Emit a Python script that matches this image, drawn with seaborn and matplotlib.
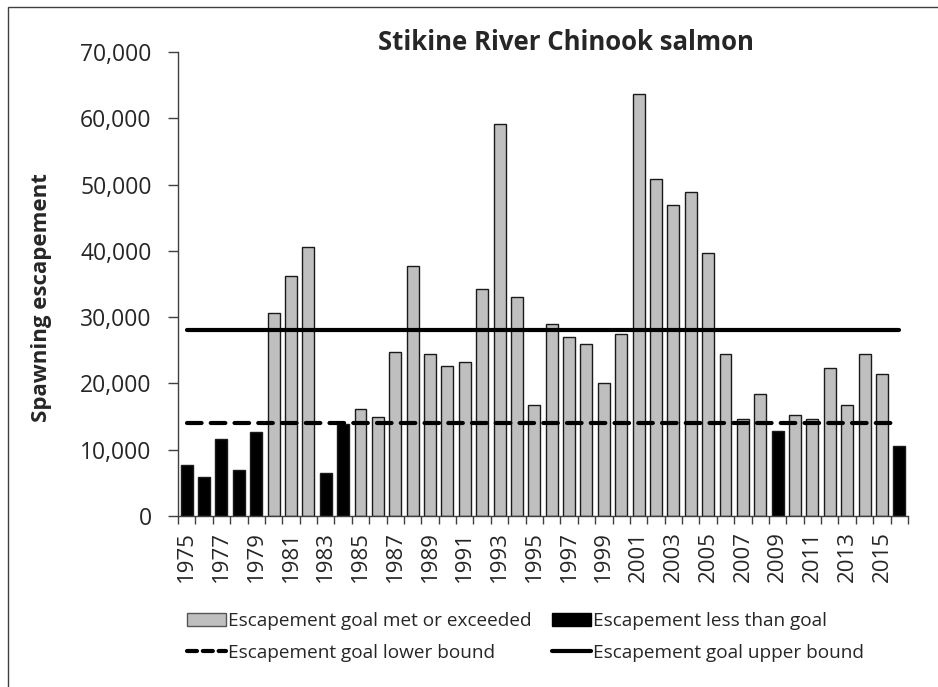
import pandas as pd
import matplotlib.pyplot as plt
import seaborn as sns
import numpy as np
from matplotlib.patches import Patch, Rectangle
from matplotlib.lines import Line2D
from matplotlib.ticker import FuncFormatter

# Data
years = list(range(1975, 2017))
escapement = [7700, 5900, 11600, 6900, 12700, 30700, 36200, 40600, 6500, 13900,
              16100, 15000, 24700, 37700, 24400, 22700, 23300, 34200, 59100, 33100,
              16800, 29000, 27000, 26000, 20000, 27500, 63600, 50900, 46900, 48900,
              39700, 24500, 14600, 18400, 12800, 15200, 14600, 22400, 16800, 24400,
              21400, 10500]
goal_lower = 14000
goal_upper = 28000

met_label = 'Escapement goal met or exceeded'
less_label = 'Escapement less than goal'

data = pd.DataFrame({'Year': [str(y) for y in years], 'Escapement': escapement})
data['Status'] = np.where(data['Escapement'] < goal_lower, less_label, met_label)

sns.set_style('white')
plt.rcParams['font.family'] = ['Open Sans', 'DejaVu Sans']

fig = plt.figure(figsize=(9.38, 6.87), dpi=100)
ax = fig.add_axes([178 / 938, 1 - 516 / 687, 730 / 938, 464 / 687])

sns.barplot(x='Year', y='Escapement', hue='Status', data=data, dodge=False,
            hue_order=[met_label, less_label],
            palette={met_label: '#bfbfbf', less_label: 'black'},
            edgecolor='#1a1a1a', linewidth=1, width=0.69, legend=False, ax=ax)

# Goal bounds drawn across the category positions
xpos = np.arange(len(years))
ax.plot(xpos, [goal_upper] * len(years), color='black', linewidth=3, solid_capstyle='round')
ax.plot(xpos, [goal_lower] * len(years), color='black', linewidth=3,
        dashes=(3.5, 2.2), dash_capstyle='round')

ax.set_xlim(-0.5, len(years) - 0.5)
ax.set_ylim(0, 70000)
ax.set_yticks(range(0, 70001, 10000))
ax.yaxis.set_major_formatter(FuncFormatter(lambda v, p: f'{int(v):,}'))

ax.set_xticks(xpos[::2])
ax.set_xticklabels(years[::2], rotation=90, fontsize=16)
ax.set_xticks(np.arange(-0.5, len(years)), minor=True)
ax.tick_params(axis='x', which='major', length=0, pad=11)
ax.tick_params(axis='x', which='minor', length=6, width=1, color='#404040', direction='out', bottom=True)
ax.tick_params(axis='y', labelsize=16.5, length=7, width=1, color='#404040', direction='out', left=True, pad=12)

for side in ['top', 'right']:
    ax.spines[side].set_visible(False)
for side in ['left', 'bottom']:
    ax.spines[side].set_color('#404040')
    ax.spines[side].set_linewidth(1)

ax.set_xlabel('')
ax.set_ylabel('')
fig.text(42 / 938, 1 - 298 / 687, 'Spawning escapement', rotation=90, fontsize=16,
         fontweight='bold', ha='center', va='center')
fig.text(566 / 938, 1 - 43 / 687, 'Stikine River Chinook salmon', fontsize=18.5,
         fontweight='bold', ha='center', va='center')

# Legend below the plot, two columns
handles = [Patch(facecolor='#bfbfbf', edgecolor='#555555'),
           Line2D([], [], color='black', linewidth=3, dashes=(2.4, 1.4), dash_capstyle='round'),
           Patch(facecolor='black', edgecolor='black'),
           Line2D([], [], color='black', linewidth=3)]
labels = [met_label, 'Escapement goal lower bound', less_label, 'Escapement goal upper bound']
fig.legend(handles, labels, ncol=2, loc='upper left', bbox_to_anchor=(187 / 938, 1 - 612 / 687),
           frameon=False, fontsize=13.7, handlelength=2.05, handleheight=0.65, handletextpad=0.1,
           columnspacing=1.1, labelspacing=0.72, borderpad=0, borderaxespad=0)

# Chart area border
fig.patches.append(Rectangle((8 / 938, -0.05), 1.1, 1 - 7 / 687 + 0.05, transform=fig.transFigure,
                             fill=False, edgecolor='#404040', linewidth=1))

fig.savefig('out.png', dpi=100)
